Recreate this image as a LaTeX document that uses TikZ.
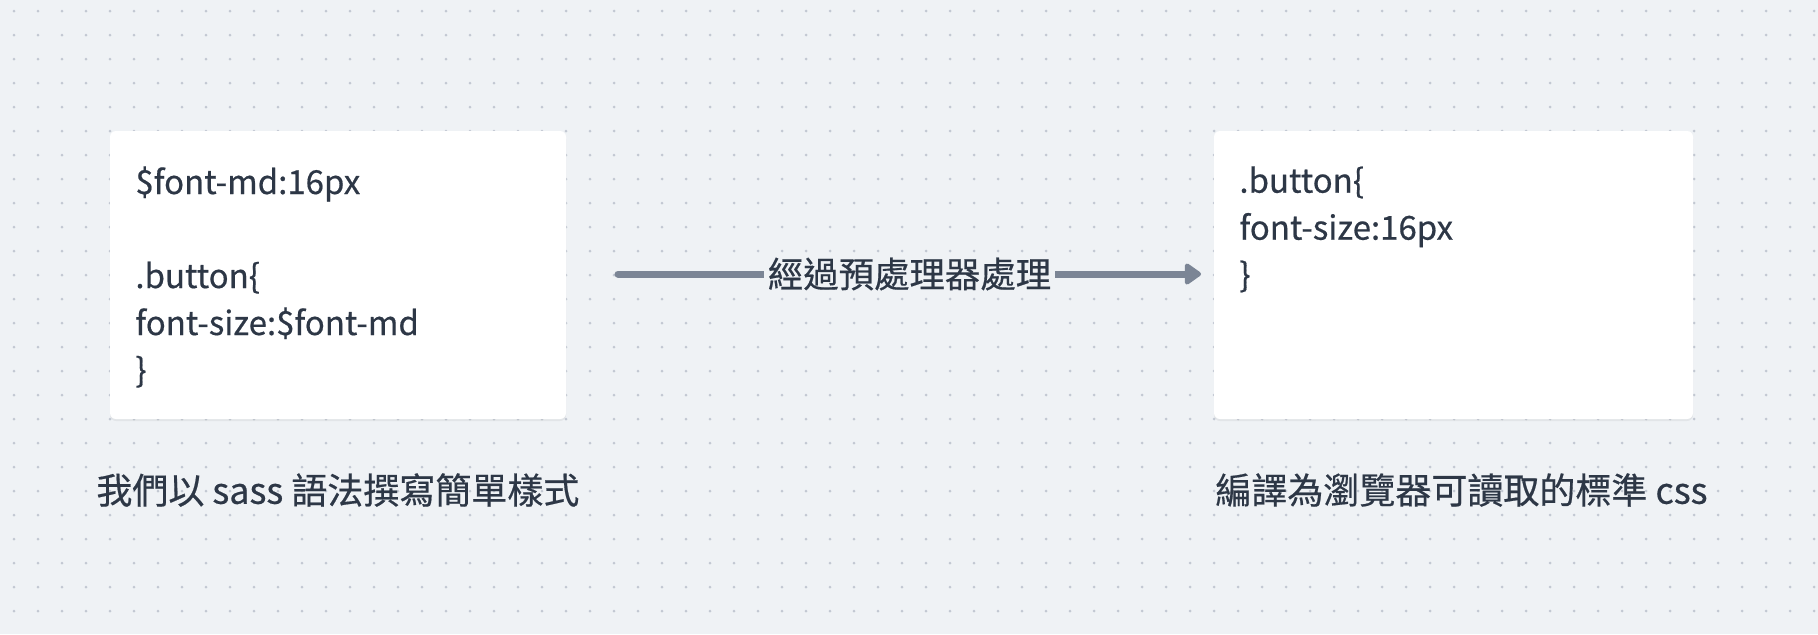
\documentclass[tikz,border=0pt]{standalone}
\usepackage{fontspec}
\setmainfont{Noto Sans CJK TC}[UprightFeatures={FakeBold=0.5}]
\definecolor{BoardBg}{HTML}{EFF2F5}
\definecolor{BoardDot}{HTML}{C2C8D2}
\definecolor{InkDark}{HTML}{2D3746}
\definecolor{ArrowGray}{HTML}{7B8595}
\usetikzlibrary{
    arrows.meta,
    shadows,
}

\begin{document}
\begin{tikzpicture}[
    x=0.5pt, y=-0.5pt,
    card/.style={rectangle, rounded corners=3pt, fill=white, minimum height=144pt, drop shadow={shadow xshift=0pt, shadow yshift=-1pt, opacity=0.05, fill=black}},
    code/.style={anchor=north west, inner sep=0pt, align=left, text=InkDark, font=\fontsize{16.5}{23.5}\selectfont},
    caption/.style={anchor=west, inner sep=0pt, text=InkDark, font=\fontsize{18}{21}\selectfont},
    arr/.style={-{Triangle[length=9pt, width=12pt, round]}, line width=3.5pt, line cap=round, ArrowGray}
]
    \useasboundingbox (0,0) rectangle (1818,634);
    \fill[BoardBg] (0,0) rectangle (1818,634);
    % dotted board
    \foreach \gx in {0,...,75}
        \foreach \gy in {0,...,25}
            \fill[BoardDot] (14+24*\gx, 11+24*\gy) circle (0.75pt);

    \node[card, minimum width=228pt]   (sassbox) at (338,275)    {};
    \node[card, minimum width=239.5pt] (cssbox)  at (1453.5,275) {};

    \node[code] (sasscode) at (135,166)  {\$font-md:16px\\[23.5pt].button\{\\font-size:\$font-md\\\}};
    \node[code] (csscode)  at (1239,166) {.button\{\\font-size:16px\\\}};

    \coordinate (pipestart) at (618,274);
    \coordinate (pipeend)   at (1201,274);
    \draw[arr] (pipestart) -- (pipeend)
        node[midway, fill=BoardBg, inner xsep=2pt, inner ysep=1pt, text=InkDark, font=\fontsize{17.7}{21}\selectfont] (pipelabel) {經過預處理器處理};

    \node[caption] (sasscap) at (96,490)   {我們以 sass 語法撰寫簡單樣式};
    \node[caption] (csscap)  at (1215,490) {編譯為瀏覽器可讀取的標準 css};
\end{tikzpicture}
\end{document}
